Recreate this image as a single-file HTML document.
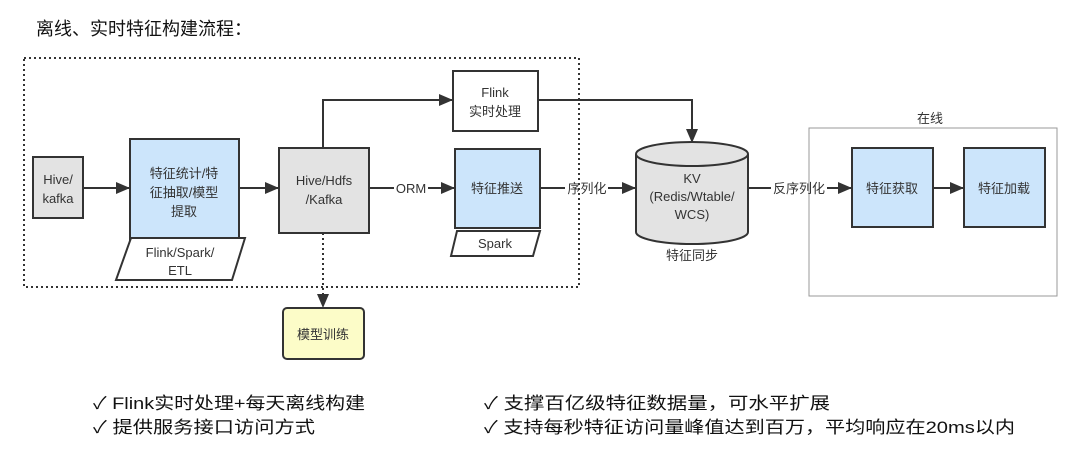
<!DOCTYPE html>
<html><head><meta charset="utf-8"><style>
body{margin:0;background:#fff;width:1080px;height:476px;overflow:hidden}
svg{display:block}
text{font-family:"Liberation Sans","Noto Sans CJK SC",sans-serif;fill:#333}
</style></head><body>
<svg width="1080" height="476" viewBox="0 0 1080 476" xmlns="http://www.w3.org/2000/svg">
<defs>
<marker id="a" markerWidth="14" markerHeight="12" refX="13" refY="6" orient="auto" markerUnits="userSpaceOnUse"><path d="M0,0 L14,6 L0,12 z" fill="#333"/></marker>
</defs>
<text x="36" y="35" font-size="18" style="fill:#111">离线、实时特征构建流程：</text>
<rect x="24" y="58" width="555" height="229" fill="none" stroke="#333" stroke-width="2" stroke-dasharray="2,3"/>
<rect x="809" y="128" width="248" height="168" fill="none" stroke="#999" stroke-width="1"/>
<text x="930" y="123" font-size="13" text-anchor="middle">在线</text>
<g stroke="#333" stroke-width="2" fill="none">
<line x1="83" y1="188" x2="129" y2="188" marker-end="url(#a)"/>
<line x1="239" y1="188" x2="278" y2="188" marker-end="url(#a)"/>
<polyline points="323,148 323,100 452,100" marker-end="url(#a)"/>
<polyline points="538,100 692,100 692,142" marker-end="url(#a)"/>
<line x1="369" y1="188" x2="394" y2="188"/>
<line x1="428" y1="188" x2="454" y2="188" marker-end="url(#a)"/>
<line x1="540" y1="188" x2="565" y2="188"/>
<line x1="608" y1="188" x2="635" y2="188" marker-end="url(#a)"/>
<line x1="748" y1="188" x2="771" y2="188"/>
<line x1="827" y1="188" x2="851" y2="188" marker-end="url(#a)"/>
<line x1="933" y1="188" x2="963" y2="188" marker-end="url(#a)"/>
<line x1="323" y1="233" x2="323" y2="307" stroke-dasharray="2,3" marker-end="url(#a)"/>
</g>
<text x="411" y="193" font-size="13" text-anchor="middle">ORM</text>
<text x="587" y="193" font-size="13" text-anchor="middle">序列化</text>
<text x="799" y="193" font-size="13" text-anchor="middle">反序列化</text>
<g stroke="#333" stroke-width="2">
<rect x="33" y="157" width="50" height="61" fill="#e3e3e3"/>
<rect x="130" y="139" width="109" height="111" fill="#cce5fb"/>
<polygon points="131,238 245,238 232,280 116,280" fill="#fff"/>
<rect x="279" y="148" width="90" height="85" fill="#e3e3e3"/>
<rect x="453" y="71" width="85" height="60" fill="#fff"/>
<rect x="455" y="149" width="85" height="79" fill="#cce5fb"/>
<polygon points="457,231 540,231 533,256 451,256" fill="#fff"/>
<path d="M636,154 L636,232 A56,12 0 0 0 748,232 L748,154" fill="#e3e3e3"/>
<ellipse cx="692" cy="154" rx="56" ry="12" fill="#e3e3e3"/>
<rect x="852" y="148" width="81" height="79" fill="#cce5fb"/>
<rect x="964" y="148" width="81" height="79" fill="#cce5fb"/>
<rect x="283" y="308" width="81" height="51" rx="4" fill="#fcfcc8"/>
</g>
<g font-size="13" text-anchor="middle">
<text x="58" y="184">Hive/</text><text x="58" y="203">kafka</text>
<text x="184" y="178">特征统计/特</text><text x="184" y="197">征抽取/模型</text><text x="184" y="216">提取</text>
<text x="180" y="257">Flink/Spark/</text><text x="180" y="275">ETL</text>
<text x="324" y="185">Hive/Hdfs</text><text x="324" y="204">/Kafka</text>
<text x="495" y="97">Flink</text><text x="495" y="116">实时处理</text>
<text x="497" y="193">特征推送</text>
<text x="495" y="248">Spark</text>
<text x="692" y="183">KV</text><text x="692" y="201">(Redis/Wtable/</text><text x="692" y="219">WCS)</text>
<text x="692" y="260">特征同步</text>
<text x="892" y="193">特征获取</text>
<text x="1004" y="193">特征加载</text>
<text x="323" y="339">模型训练</text>
</g>
<g font-size="17">
<text x="93" y="409" style="fill:#111" textLength="272" lengthAdjust="spacingAndGlyphs">✓ Flink实时处理+每天离线构建</text>
<text x="93" y="433" style="fill:#111" textLength="222" lengthAdjust="spacingAndGlyphs">✓ 提供服务接口访问方式</text>
<text x="484" y="409" style="fill:#111" textLength="346" lengthAdjust="spacingAndGlyphs">✓ 支撑百亿级特征数据量，可水平扩展</text>
<text x="484" y="433" style="fill:#111" textLength="531" lengthAdjust="spacingAndGlyphs">✓ 支持每秒特征访问量峰值达到百万，平均响应在20ms以内</text>
</g>
</svg>
</body></html>
